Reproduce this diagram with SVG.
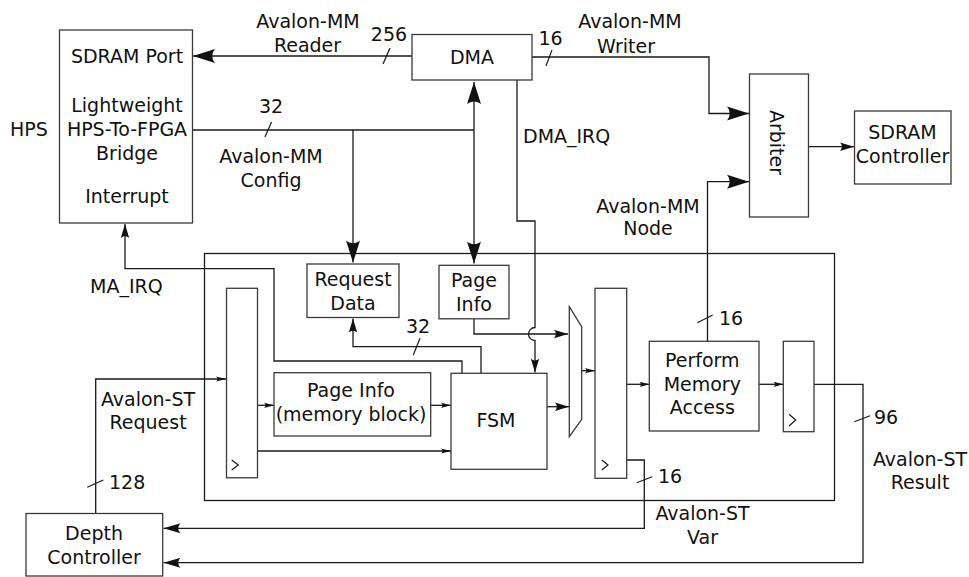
<svg xmlns="http://www.w3.org/2000/svg" width="969" height="577" viewBox="0 0 969 577">
  <style>
    .box { fill: #fff; stroke: #3a3a3a; stroke-width: 1.3; }
    .frame { fill: none; stroke: #1a1a1a; stroke-width: 1.3; }
    .wire { fill: none; stroke: #1a1a1a; stroke-width: 1.3; }
    .tick { fill: none; stroke: #1a1a1a; stroke-width: 1.2; }
    text { font-family: "DejaVu Sans", "Liberation Sans", sans-serif; font-size: 19px; fill: #111; }
    .c { text-anchor: middle; }
    .head { fill: #111; stroke: none; }
  </style>
  <defs>
    <marker id="ahL" viewBox="-23 -8 24 16" markerWidth="24" markerHeight="16" refX="0" refY="0" orient="auto-start-reverse" markerUnits="userSpaceOnUse">
      <path class="head" d="M0,0 L-22,-7 C-18.5,-2.8 -18.5,2.8 -22,7 Z"/>
    </marker>
    <marker id="ahD" viewBox="-18 -6 19 12" markerWidth="19" markerHeight="12" refX="0" refY="0" orient="auto" markerUnits="userSpaceOnUse">
      <path class="head" d="M0,0 L-17,-5 C-14,-2 -14,2 -17,5 Z"/>
    </marker>
    <marker id="ahM" viewBox="-15 -5 16 10" markerWidth="16" markerHeight="10" refX="0" refY="0" orient="auto" markerUnits="userSpaceOnUse">
      <path class="head" d="M0,0 L-14,-4.2 C-11.5,-1.6 -11.5,1.6 -14,4.2 Z"/>
    </marker>
    <marker id="ahS" viewBox="-11 -3 12 6" markerWidth="12" markerHeight="6" refX="0" refY="0" orient="auto" markerUnits="userSpaceOnUse">
      <path class="head" d="M0,0 L-10,-2.6 C-8,-1 -8,1 -10,2.6 Z"/>
    </marker>
  </defs>

  <rect width="969" height="577" fill="#fff"/>

  <!-- FPGA core outline -->
  <g id="core">
    <rect class="frame" x="204.5" y="253.5" width="630" height="247"/>
  </g>

  <!-- connectors -->
  <g id="connectors">
    <!-- Avalon-MM Reader -->
    <path class="wire" d="M412,56 H193" marker-end="url(#ahL)"/>
    <!-- Avalon-MM Writer -->
    <path class="wire" d="M532,57 H709 V113.5 H749" marker-end="url(#ahL)"/>
    <!-- Avalon-MM Config bus -->
    <path class="wire" d="M193,130 H474"/>
    <path class="wire" d="M474,82 V263.5" marker-start="url(#ahL)" marker-end="url(#ahL)"/>
    <path class="wire" d="M353,130 V262.5" marker-end="url(#ahL)"/>
    <!-- DMA_IRQ with jump over Page Info line -->
    <path class="wire" d="M517,80 V221 H535 V327.5 A6.5,6.5 0 0 0 535,340.5 V372.5" marker-end="url(#ahM)"/>
    <!-- MA_IRQ -->
    <path class="wire" d="M462,373 V361 H274 V268.7 H125 V224" marker-end="url(#ahM)"/>
    <!-- FSM to Request Data (32) -->
    <path class="wire" d="M481,373 V346.7 H353 V318.5" marker-end="url(#ahM)"/>
    <!-- Page Info to mux -->
    <path class="wire" d="M474,319 V334 H568" marker-end="url(#ahM)"/>
    <!-- Avalon-ST Request -->
    <path class="wire" d="M95.7,513.5 V379 H226" marker-end="url(#ahS)"/>
    <!-- register 1 outputs -->
    <path class="wire" d="M258,405.3 H274" marker-end="url(#ahS)"/>
    <path class="wire" d="M431,405.3 H451" marker-end="url(#ahS)"/>
    <path class="wire" d="M258,451 H451" marker-end="url(#ahS)"/>
    <!-- FSM to mux -->
    <path class="wire" d="M547,406.7 H569" marker-end="url(#ahM)"/>
    <!-- mux to register 2 -->
    <path class="wire" d="M582,370.7 H595" marker-end="url(#ahS)"/>
    <!-- register 2 to Perform Memory Access -->
    <path class="wire" d="M627,384.3 H649.5" marker-end="url(#ahS)"/>
    <!-- Perform Memory Access to register 3 -->
    <path class="wire" d="M759,384.3 H783.5" marker-end="url(#ahS)"/>
    <!-- Avalon-MM Node -->
    <path class="wire" d="M707.5,341 V181.7 H749" marker-end="url(#ahL)"/>
    <!-- Arbiter to SDRAM Controller -->
    <path class="wire" d="M808.5,146.7 H854" marker-end="url(#ahM)"/>
    <!-- Avalon-ST Var -->
    <path class="wire" d="M627,460 H644.3 V528.3 H163.5" marker-end="url(#ahD)"/>
    <!-- Avalon-ST Result -->
    <path class="wire" d="M814,384.3 H863 V562.7 H163.5" marker-end="url(#ahD)"/>

    <!-- bus width ticks -->
    <path class="tick" d="M383,64 L390,48"/>
    <path class="tick" d="M546,66 L552,50"/>
    <path class="tick" d="M265,137 L271.5,122"/>
    <path class="tick" d="M413.3,355 L420,338.3"/>
    <path class="tick" d="M697.3,322.7 L712.7,315"/>
    <path class="tick" d="M854.3,421.7 L870,415.7"/>
    <path class="tick" d="M636.7,482.7 L652.3,476.7"/>
    <path class="tick" d="M87.3,487.3 L103.3,480"/>
  </g>

  <!-- bus labels -->
  <g id="labels">
    <text class="c" x="308" y="28">Avalon-MM</text>
    <text class="c" x="307.5" y="52">Reader</text>
    <text class="c" x="389" y="41">256</text>
    <text class="c" x="550.5" y="45">16</text>
    <text class="c" x="630" y="28">Avalon-MM</text>
    <text class="c" x="626" y="52.5">Writer</text>
    <text class="c" x="271" y="113">32</text>
    <text class="c" x="271" y="163">Avalon-MM</text>
    <text class="c" x="271" y="187">Config</text>
    <text x="523" y="143">DMA_IRQ</text>
    <text class="c" x="648" y="212.5">Avalon-MM</text>
    <text class="c" x="648" y="235">Node</text>
    <text x="90" y="293.3">MA_IRQ</text>
    <text class="c" x="418" y="333">32</text>
    <text x="719" y="325">16</text>
    <text class="c" x="148" y="405.7">Avalon-ST</text>
    <text class="c" x="148" y="429">Request</text>
    <text x="874" y="424">96</text>
    <text class="c" x="920" y="465.7">Avalon-ST</text>
    <text class="c" x="920" y="489">Result</text>
    <text x="109" y="489">128</text>
    <text x="658" y="483">16</text>
    <text class="c" x="702.5" y="520">Avalon-ST</text>
    <text class="c" x="702.5" y="544">Var</text>
    <text x="10" y="135.5">HPS</text>
  </g>

  <g id="hps">
    <rect class="box" x="59.5" y="30" width="133" height="193"/>
    <text class="c" x="127" y="63">SDRAM Port</text>
    <text class="c" x="127" y="112">Lightweight</text>
    <text class="c" x="127" y="136">HPS-To-FPGA</text>
    <text class="c" x="127" y="160">Bridge</text>
    <text class="c" x="127" y="203">Interrupt</text>
  </g>

  <g id="dma">
    <rect class="box" x="412" y="34.5" width="120" height="45.5"/>
    <text class="c" x="472" y="64">DMA</text>
  </g>

  <g id="arbiter">
    <rect class="box" x="749.5" y="74" width="59" height="143"/>
    <text class="c" transform="translate(770,142.5) rotate(90)" x="0" y="0">Arbiter</text>
  </g>

  <g id="sdram-controller">
    <rect class="box" x="854.5" y="111" width="96.5" height="73"/>
    <text class="c" x="902.5" y="139">SDRAM</text>
    <text class="c" x="902.5" y="163.3">Controller</text>
  </g>

  <g id="request-data">
    <rect class="box" x="307" y="264" width="92" height="53.5"/>
    <text class="c" x="353" y="286">Request</text>
    <text class="c" x="353" y="310">Data</text>
  </g>

  <g id="page-info">
    <rect class="box" x="439" y="265.3" width="70" height="53.5"/>
    <text class="c" x="474" y="287">Page</text>
    <text class="c" x="474" y="311">Info</text>
  </g>

  <g id="register-in">
    <rect class="box" x="226.5" y="288.3" width="31" height="189.5"/>
    <path class="tick" d="M231.7,460 L238.3,465 L231.7,470"/>
  </g>

  <g id="page-info-memory">
    <rect class="box" x="274" y="372.7" width="156.7" height="63.3"/>
    <text class="c" x="351" y="396.7">Page Info</text>
    <text class="c" x="351" y="420.7">(memory block)</text>
  </g>

  <g id="fsm">
    <rect class="box" x="451" y="373.3" width="96" height="96"/>
    <text class="c" x="496" y="427.3">FSM</text>
  </g>

  <g id="mux">
    <path class="box" d="M569.3,306.7 L581.7,326.7 L581.7,419.3 L569.3,436.7 Z"/>
  </g>

  <g id="register-mid">
    <rect class="box" x="595" y="288.3" width="31.7" height="190"/>
    <path class="tick" d="M601.7,460 L608,465 L601.7,470"/>
  </g>

  <g id="perform-memory-access">
    <rect class="box" x="649.3" y="341.3" width="109.7" height="89.7"/>
    <text class="c" x="702.3" y="366.7">Perform</text>
    <text class="c" x="702.3" y="390.7">Memory</text>
    <text class="c" x="702.3" y="414.3">Access</text>
  </g>

  <g id="register-out">
    <rect class="box" x="783.3" y="341.3" width="30.7" height="90.4"/>
    <path class="tick" d="M789,414.3 L795.7,420 L789,426"/>
  </g>

  <g id="depth-controller">
    <rect class="box" x="26" y="513.5" width="136.7" height="62.5"/>
    <text class="c" x="94" y="540">Depth</text>
    <text class="c" x="94" y="563.5">Controller</text>
  </g>
</svg>
